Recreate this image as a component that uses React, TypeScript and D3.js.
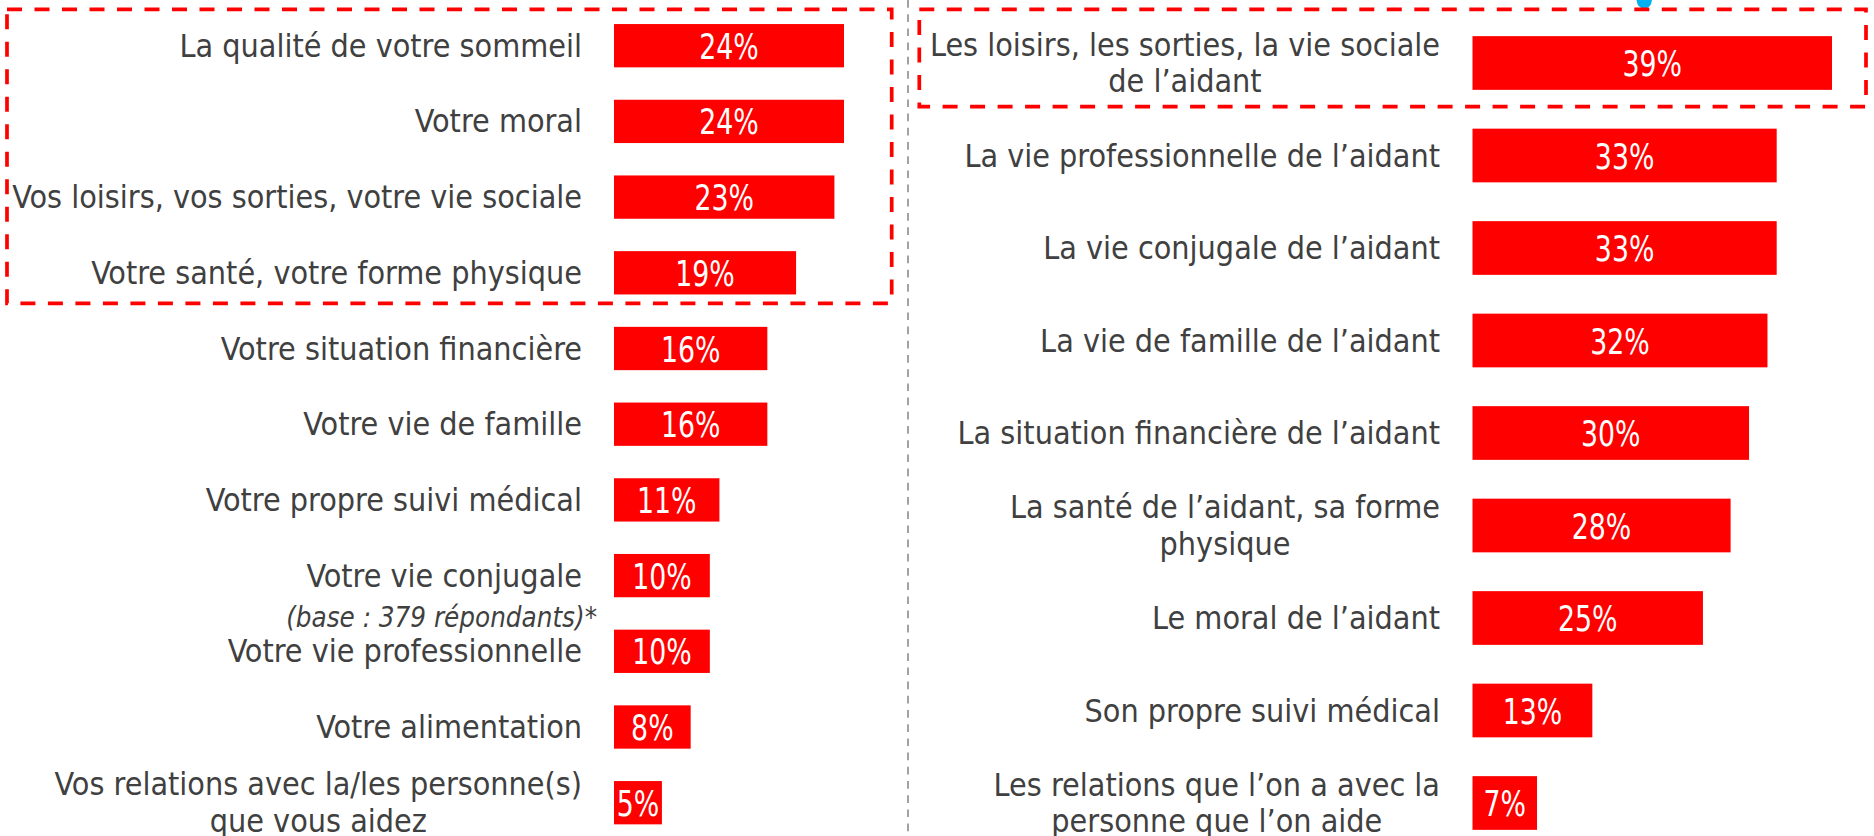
import React, { useEffect, useRef } from "react";
import * as d3 from "d3";

const leftCategories = [
  "La qualité de votre sommeil",
  "Votre moral",
  "Vos loisirs, vos sorties, votre vie sociale",
  "Votre santé, votre forme physique",
  "Votre situation financière",
  "Votre vie de famille",
  "Votre propre suivi médical",
  "Votre vie conjugale",
  "Votre vie professionnelle",
  "Votre alimentation",
  "Vos relations avec la/les personne(s)\nque vous aidez",
];
const leftValues = [24, 24, 23, 19, 16, 16, 11, 10, 10, 8, 5];

const rightCategories = [
  "Les loisirs, les sorties, la vie sociale\nde l’aidant",
  "La vie professionnelle de l’aidant",
  "La vie conjugale de l’aidant",
  "La vie de famille de l’aidant",
  "La situation financière de l’aidant",
  "La santé de l’aidant, sa forme\nphysique",
  "Le moral de l’aidant",
  "Son propre suivi médical",
  "Les relations que l’on a avec la\npersonne que l’on aide",
];
const rightValues = [39, 33, 33, 32, 30, 28, 25, 13, 7];

const footnote = "(base : 379 répondants)*";

const W = 1874;
const H = 836;
const RED = "#FF0000";
const TEXT = "#404040";
const LABEL_FONT = "'DejaVu Sans Condensed', 'DejaVu Sans', sans-serif";
const VALUE_FONT = "'DejaVu Sans Condensed', 'DejaVu Sans', sans-serif";

export default function App() {
  const ref = useRef<SVGSVGElement | null>(null);

  useEffect(() => {
    const svg = d3.select(ref.current);
    svg.selectAll("*").remove();

    // vertical separator
    svg
      .append("line")
      .attr("x1", 908)
      .attr("x2", 908)
      .attr("y1", 0)
      .attr("y2", H)
      .attr("stroke", "#8c8c8c")
      .attr("stroke-width", 1.6)
      .attr("stroke-dasharray", "7.7 6.5");

    // blue fragment at top
    svg
      .append("path")
      .attr("d", "M1636.5,0 L1652,0 Q1651,8.5 1644.25,8.5 Q1637.5,8.5 1636.5,0 Z")
      .attr("fill", "#00B0F0");

    // highlight boxes
    const boxes = [
      { x0: 7, y0: 9.3, x1: 891.7, y1: 303.3 },
      { x0: 919.3, y0: 9.3, x1: 1866, y1: 106.7 },
    ];
    svg
      .selectAll("rect.box")
      .data(boxes)
      .enter()
      .append("rect")
      .attr("class", "box")
      .attr("x", (d) => d.x0)
      .attr("y", (d) => d.y0)
      .attr("width", (d) => d.x1 - d.x0)
      .attr("height", (d) => d.y1 - d.y0)
      .attr("fill", "none")
      .attr("stroke", RED)
      .attr("stroke-width", 3.7)
      .attr("stroke-dasharray", "15 12.5");

    const panels = [
      {
        cats: leftCategories,
        vals: leftValues,
        x: d3.scaleLinear().domain([0, 24]).range([614, 844]),
        y: d3.scalePoint<number>().domain(d3.range(leftCategories.length)).range([45.7, 802.7]),
        barH: 43.3,
        labelRight: 582,
      },
      {
        cats: rightCategories,
        vals: rightValues,
        x: d3.scaleLinear().domain([0, 39]).range([1472.5, 1832]),
        y: d3.scalePoint<number>().domain(d3.range(rightCategories.length)).range([63, 803]),
        barH: 53.7,
        labelRight: 1440,
      },
    ];

    const lineH = 36.5;

    panels.forEach((p) => {
      const g = svg.append("g");
      const idx = d3.range(p.cats.length);
      g.selectAll("rect.bar")
        .data(idx)
        .enter()
        .append("rect")
        .attr("x", p.x(0))
        .attr("y", (i) => (p.y(i) as number) - p.barH / 2)
        .attr("width", (i) => p.x(p.vals[i]) - p.x(0))
        .attr("height", p.barH)
        .attr("fill", RED);

      g.selectAll("text.val")
        .data(idx)
        .enter()
        .append("text")
        .attr(
          "transform",
          (i) => `translate(${(p.x(0) + p.x(p.vals[i])) / 2},${(p.y(i) as number) + 13}) scale(0.85,1)`
        )
        .attr("text-anchor", "middle")
        .attr("fill", "#ffffff")
        .attr("font-family", VALUE_FONT)
        .attr("font-stretch", "condensed")
        .attr("font-size", 35)
        .text((i) => `${p.vals[i]}%`);

      idx.forEach((i) => {
        const lines = p.cats[i].split("\n");
        const cy = p.y(i) as number;
        const t = g
          .append("text")
          .attr("fill", TEXT)
          .attr("font-family", LABEL_FONT)
          .attr("font-stretch", "condensed")
          .attr("font-size", 32);
        const spans = lines.map((ln, k) =>
          t
            .append("tspan")
            .attr("y", cy + 11 + (k - (lines.length - 1) / 2) * lineH)
            .text(ln)
        );
        if (lines.length === 1) {
          t.attr("text-anchor", "end");
          spans[0].attr("x", p.labelRight);
        } else {
          const maxW = d3.max(spans, (s) => (s.node() as SVGTSpanElement).getComputedTextLength()) || 0;
          t.attr("text-anchor", "middle");
          spans.forEach((s) => s.attr("x", p.labelRight - maxW / 2));
        }
      });
    });

    // footnote
    svg
      .append("text")
      .attr("x", 597)
      .attr("y", 627)
      .attr("text-anchor", "end")
      .attr("fill", TEXT)
      .attr("font-family", LABEL_FONT)
      .attr("font-stretch", "condensed")
      .attr("font-style", "italic")
      .attr("font-size", 27.5)
      .text(footnote);
  }, []);

  return (
    <div style={{ position: "absolute", left: 0, top: 0 }}>
      <svg ref={ref} width={W} height={H} style={{ display: "block", background: "#ffffff" }} />
    </div>
  );
}
